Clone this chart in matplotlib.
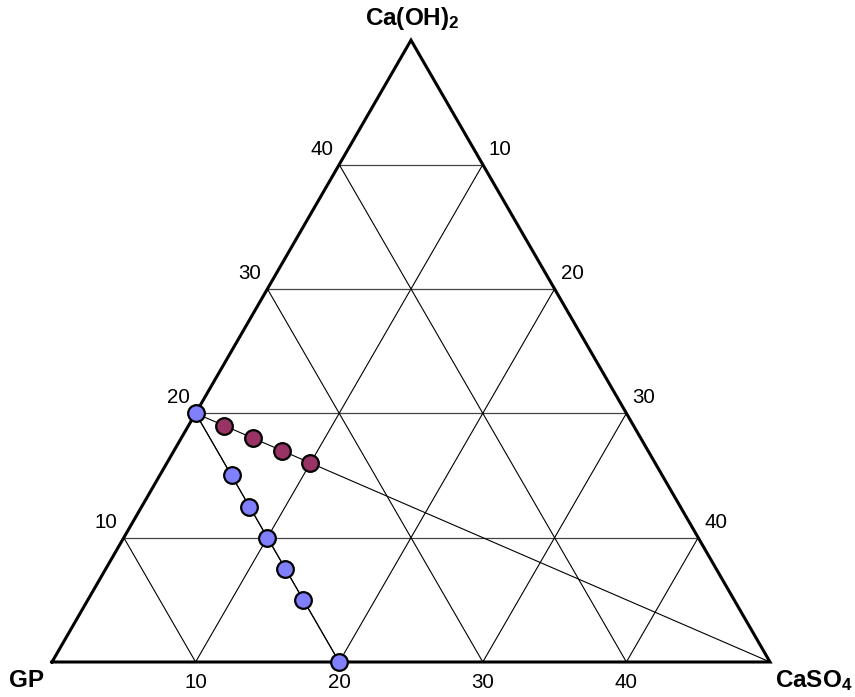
import numpy as np
import matplotlib
matplotlib.use("Agg")
import matplotlib.pyplot as plt

plt.rcParams['font.family'] = ['Liberation Sans', 'DejaVu Sans']
plt.rcParams['mathtext.fontset'] = 'custom'
plt.rcParams['mathtext.rm'] = 'Liberation Sans'
plt.rcParams['mathtext.bf'] = 'Liberation Sans:bold'

# ---- data ----
axis_max = 50
tick_values = [10, 20, 30, 40]
bottom_labels = ["10", "20", "30", "40"]
left_labels = ["10", "20", "30", "40"]      # Ca(OH)2 along left edge
right_labels = ["40", "30", "20", "10"]     # along right edge (at Ca(OH)2 = 10..40)
vertex_names = ["GP", r"$\mathbf{CaSO_4}$", r"$\mathbf{Ca(OH)_2}$"]

blue_caso4 = [0, 5, 7.5, 10, 12.5, 15, 20]
blue_caoh2 = [20, 15, 12.5, 10, 7.5, 5, 0]
maroon_caso4 = [2.5, 5, 7.5, 10]
maroon_caoh2 = [19, 18, 17, 16]
mix_line_caso4 = [0, 50]
mix_line_caoh2 = [20, 0]

S3 = np.sqrt(3) / 2


def tern(a, c):
    a = np.asarray(a, float)
    c = np.asarray(c, float)
    return a + c / 2, c * S3


PX = 718 / axis_max  # pixels per unit
fig = plt.figure(figsize=(8.55, 6.97), dpi=100)
ax = fig.add_axes([0, 0, 1, 1])
ax.set_xlim(-52 / PX, (855 - 52) / PX)
ax.set_ylim(-35 / PX, (697 - 35) / PX)
ax.axis('off')


def off(dx_px, dy_px):
    return dx_px / PX, dy_px / PX


# grid
for t in tick_values:
    x, y = tern([0, axis_max - t], [t, t])
    ax.plot(x, y, color='#444444', lw=0.9, zorder=1)
    x, y = tern([t, t], [0, axis_max - t])
    ax.plot(x, y, color='black', lw=0.8, zorder=1)
    x, y = tern([t, 0], [0, t])
    ax.plot(x, y, color='black', lw=0.8, zorder=1)

# triangle border
x, y = tern([0, axis_max, 0, 0], [0, 0, axis_max, 0])
ax.plot(x, y, color='black', lw=2.2, zorder=2, solid_joinstyle='miter')

TFS = 14.8
# tick labels
for t, lab in zip(tick_values, bottom_labels):
    x, y = tern(t, 0)
    dx, dy = off(0, -11)
    ax.text(x + dx, y + dy, lab, ha='center', va='top', fontsize=TFS)
for t, lab in zip(tick_values, left_labels):
    x, y = tern(0, t)
    dx, dy = off(-6, 6)
    ax.text(x + dx, y + dy, lab, ha='right', va='bottom', fontsize=TFS)
for t, lab in zip(tick_values, right_labels):
    x, y = tern(axis_max - t, t)
    dx, dy = off(6, 6)
    ax.text(x + dx, y + dy, lab, ha='left', va='bottom', fontsize=TFS)

# vertex labels
VFS = 17.5
x, y = tern(0, 0)
dx, dy = off(-25, -25)
ax.text(x + dx, y + dy, vertex_names[0], ha='center', va='baseline', fontsize=VFS, fontweight='bold')
x, y = tern(axis_max, 0)
dx, dy = off(5, -25)
ax.text(x + dx, y + dy, vertex_names[1], ha='left', va='baseline', fontsize=VFS)
x, y = tern(0, axis_max)
dx, dy = off(1, 15)
ax.text(x + dx, y + dy, vertex_names[2], ha='center', va='baseline', fontsize=VFS)

# data lines
x, y = tern(mix_line_caso4, mix_line_caoh2)
ax.plot(x, y, color='black', lw=0.8, zorder=3)
x, y = tern(blue_caso4, blue_caoh2)
ax.plot(x, y, color='black', lw=0.8, zorder=3)

# markers
x, y = tern(maroon_caso4, maroon_caoh2)
ax.plot(x, y, 'o', ms=12, mfc='#993366', mec='black', mew=1.6, zorder=4, clip_on=False)
x, y = tern(blue_caso4, blue_caoh2)
ax.plot(x, y, 'o', ms=12, mfc='#8080ff', mec='black', mew=1.6, zorder=5, clip_on=False)

fig.savefig('out.png', dpi=100)
